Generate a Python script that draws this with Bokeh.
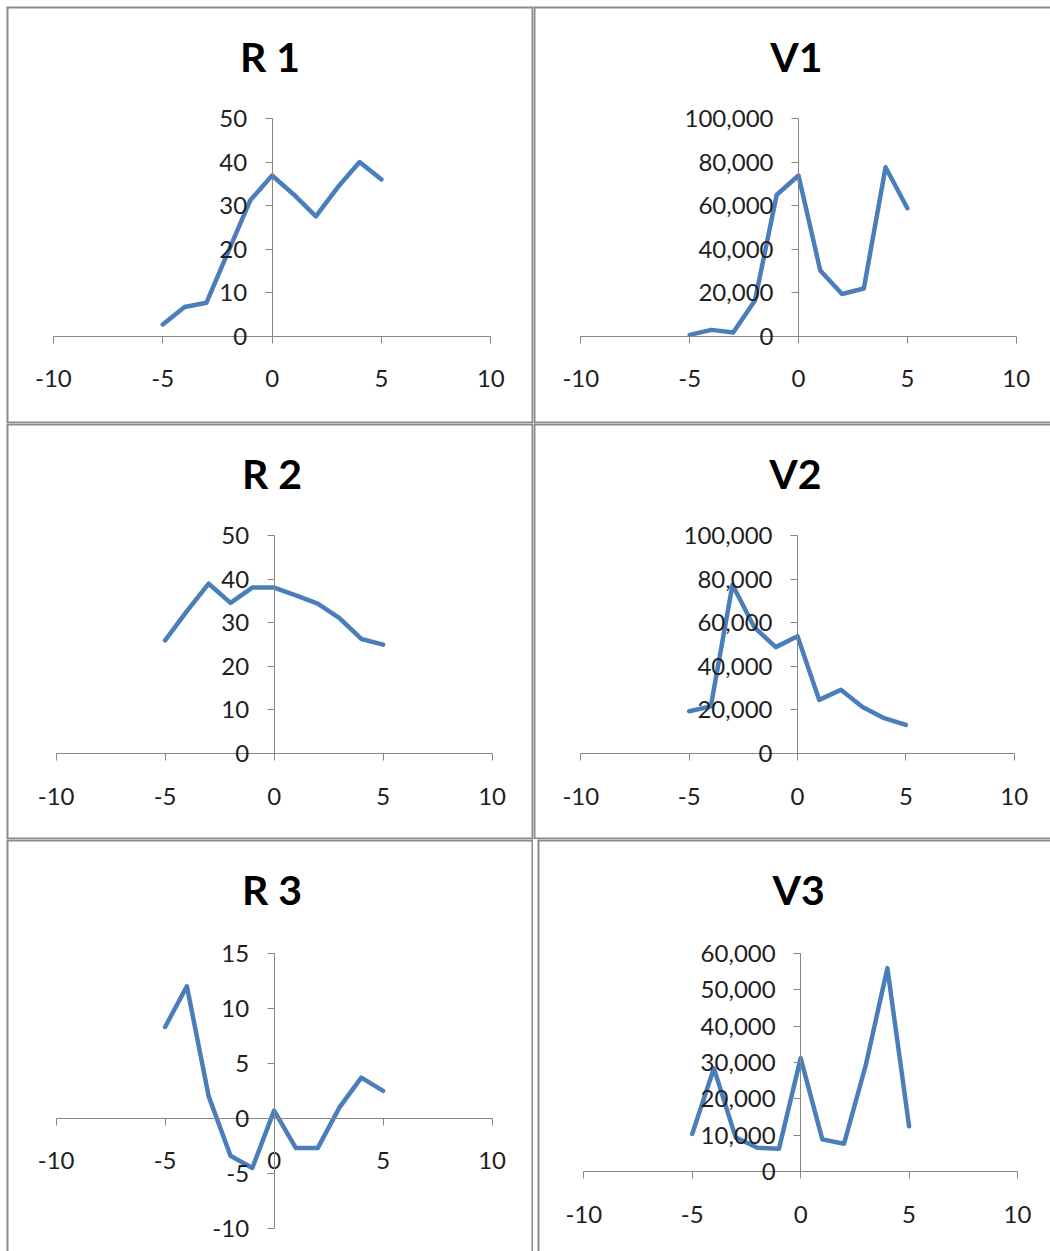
from bokeh.plotting import figure
from bokeh.models import LinearAxis, FixedTicker, NumeralTickFormatter, Span, Label, Range1d
from bokeh.layouts import column, row
from bokeh.embed import file_html
from bokeh.resources import INLINE

# ---------------- data ----------------
x_vals = [-5, -4, -3, -2, -1, 0, 1, 2, 3, 4, 5]
r1 = [2.7, 6.7, 7.7, 19.5, 31.2, 36.9, 32.5, 27.5, 34.2, 40.0, 36.0]
v1 = [600, 2900, 1700, 16400, 65000, 73800, 30200, 19400, 21900, 77600, 58800]
r2 = [26.0, 32.7, 39.0, 34.6, 38.1, 38.1, 36.3, 34.4, 31.1, 26.3, 25.0]
v2 = [19400, 21600, 77400, 58000, 48800, 53800, 24600, 29200, 21300, 16200, 13100]
r3 = [8.3, 12.0, 2.0, -3.4, -4.5, 0.7, -2.7, -2.7, 1.0, 3.7, 2.5]
v3 = [10400, 28400, 9500, 6600, 6300, 31200, 8900, 7700, 29200, 55900, 12500]

titles = ["R 1", "V1", "R 2", "V2", "R 3", "V3"]
x_ticks = [-10, -5, 0, 5, 10]
r12_ticks = [0, 10, 20, 30, 40, 50]
v12_ticks = [0, 20000, 40000, 60000, 80000, 100000]
r3_ticks = [-10, -5, 0, 5, 10, 15]
v3_ticks = [0, 10000, 20000, 30000, 40000, 50000, 60000]

FONT = "Lato"
LINE = "#4A7EBB"
AXIS = "#868686"
BORDER = "#8c8c8c"
TEXT = "#1e1e1e"


def lin(a, pa, b, pb):
    k = (b - a) / (pb - pa)
    return lambda p: a + (p - pa) * k


def panel(title, ys, yticks, frame_x, frame_y, xa, ya, fig_w, fig_h,
          mb_left=0, mb_top=0, borders=("left", "top")):
    fx = lin(xa[0], xa[1], xa[2], xa[3])
    fy = lin(ya[0], ya[1], ya[2], ya[3])
    xr = Range1d(fx(frame_x[0]), fx(frame_x[1]))
    yr = Range1d(fy(frame_y[1]), fy(frame_y[0]))
    p = figure(width=fig_w, height=fig_h, x_range=xr, y_range=yr,
               x_axis_type=None, y_axis_type=None, title=None,
               output_backend="svg", toolbar_location=None,
               min_border=0, min_border_left=mb_left, min_border_top=mb_top)
    p.outline_line_color = None
    p.background_fill_color = "white"
    p.border_fill_color = "white"

    xax = LinearAxis(fixed_location=0, bounds=(x_ticks[0], x_ticks[-1]),
                     ticker=FixedTicker(ticks=x_ticks),
                     formatter=NumeralTickFormatter(format="0"))
    yax = LinearAxis(fixed_location=0, bounds=(yticks[0], yticks[-1]),
                     ticker=FixedTicker(ticks=yticks),
                     formatter=NumeralTickFormatter(format="0,0"))
    for ax in (xax, yax):
        ax.axis_line_color = AXIS
        ax.major_tick_line_color = AXIS
        ax.major_tick_out = 7
        ax.major_tick_in = 0
        ax.minor_tick_out = 0
        ax.minor_tick_in = 0
        ax.major_label_text_font = FONT
        ax.major_label_text_font_size = "24px"
        ax.major_label_text_color = TEXT
    xax.major_label_standoff = 27
    yax.major_label_standoff = 18
    p.add_layout(xax, "below")
    p.add_layout(yax, "left")

    p.line(x_vals, ys, line_color=LINE, line_width=4.5,
           line_join="round", line_cap="round")

    p.add_layout(Label(x=0, y=fy(frame_y[0] + 50), text=title,
                       text_align="center", text_baseline="alphabetic",
                       text_font=FONT, text_font_size="41px",
                       text_font_style="bold", text_color="black",
                       x_offset=-2))

    for b in borders:
        if b == "left":
            s = Span(location=xr.start, dimension="height")
        elif b == "right":
            s = Span(location=xr.end, dimension="height")
        elif b == "top":
            s = Span(location=yr.end, dimension="width")
        else:
            s = Span(location=yr.start, dimension="width")
        s.line_color = BORDER
        s.line_width = 4
        p.add_layout(s)
    return p


pR1 = panel(titles[0], r1, r12_ticks, (6, 533), (6, 423),
            (-10, 52.9, 10, 490.3), (50, 118.0, 0, 335.7), 533, 423,
            mb_left=6, mb_top=6, borders=("left", "top", "right", "bottom"))
pV1 = panel(titles[1], v1, v12_ticks, (533, 1050), (6, 423),
            (-10, 580.3, 10, 1015.7), (100000, 118.0, 0, 335.7), 517, 423,
            mb_top=6, borders=("left", "top", "bottom"))
pR2 = panel(titles[2], r2, r12_ticks, (6, 533), (423, 839),
            (-10, 55.6, 10, 491.6), (50, 535.3, 0, 753.0), 533, 416,
            mb_left=6, borders=("left", "top", "right", "bottom"))
pV2 = panel(titles[3], v2, v12_ticks, (533, 1050), (423, 839),
            (-10, 580.3, 10, 1013.7), (100000, 535.0, 0, 753.0), 517, 416,
            borders=("left", "top", "bottom"))
pR3 = panel(titles[4], r3, r3_ticks, (6, 533), (839, 1251),
            (-10, 55.6, 10, 491.6), (15, 952.7, -10, 1228.0), 533, 412,
            mb_left=6, borders=("left", "top", "right"))
pV3 = panel(titles[5], v3, v3_ticks, (537, 1050), (839, 1251),
            (-10, 583.3, 10, 1017.0), (60000, 952.7, 0, 1171.3), 517, 412,
            mb_left=4, borders=("left", "top"))

layout = column(row(pR1, pV1), row(pR2, pV2), row(pR3, pV3))
open("out.html", "w").write(file_html(layout, INLINE))
